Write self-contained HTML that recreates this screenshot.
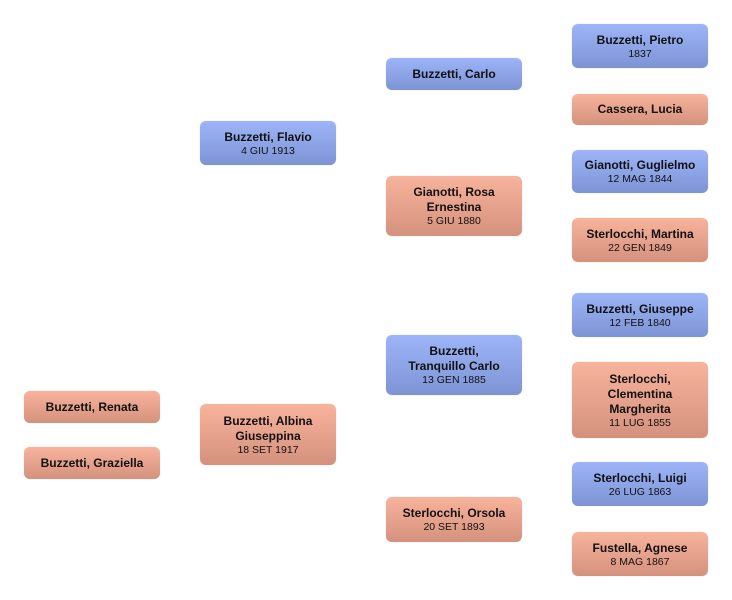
<!DOCTYPE html>
<html><head><style>
body{margin:0;width:732px;height:600px;background:#fff;position:relative;font-family:"Liberation Sans","DejaVu Sans",sans-serif;}
.b{position:absolute;width:136px;border-radius:6px;display:flex;flex-direction:column;justify-content:center;align-items:center;text-align:center;color:#111;box-shadow:0 0 1px rgba(0,0,0,.2);}
.m{background:linear-gradient(#9db5f8,#7d93d4);}
.f{background:linear-gradient(#f8b39c,#d4917d);}
.n{font-weight:bold;font-size:12px;line-height:15px;}
.d{font-size:10.5px;line-height:12px;}
</style></head><body>
<div class="b m" style="left:572px;top:24px;height:44px"><div class="n">Buzzetti, Pietro</div><div class="d">1837</div></div>
<div class="b f" style="left:572px;top:94px;height:31px"><div class="n">Cassera, Lucia</div></div>
<div class="b m" style="left:572px;top:150px;height:43px"><div class="n">Gianotti, Guglielmo</div><div class="d">12 MAG 1844</div></div>
<div class="b f" style="left:572px;top:218px;height:44px"><div class="n">Sterlocchi, Martina</div><div class="d">22 GEN 1849</div></div>
<div class="b m" style="left:572px;top:293px;height:44px"><div class="n">Buzzetti, Giuseppe</div><div class="d">12 FEB 1840</div></div>
<div class="b f" style="left:572px;top:362px;height:76px"><div class="n">Sterlocchi,<br>Clementina<br>Margherita</div><div class="d">11 LUG 1855</div></div>
<div class="b m" style="left:572px;top:462px;height:44px"><div class="n">Sterlocchi, Luigi</div><div class="d">26 LUG 1863</div></div>
<div class="b f" style="left:572px;top:532px;height:44px"><div class="n">Fustella, Agnese</div><div class="d">8 MAG 1867</div></div>
<div class="b m" style="left:386px;top:58px;height:32px"><div class="n">Buzzetti, Carlo</div></div>
<div class="b f" style="left:386px;top:176px;height:60px"><div class="n">Gianotti, Rosa<br>Ernestina</div><div class="d">5 GIU 1880</div></div>
<div class="b m" style="left:386px;top:335px;height:60px"><div class="n">Buzzetti,<br>Tranquillo Carlo</div><div class="d">13 GEN 1885</div></div>
<div class="b f" style="left:386px;top:497px;height:45px"><div class="n">Sterlocchi, Orsola</div><div class="d">20 SET 1893</div></div>
<div class="b m" style="left:200px;top:121px;height:44px"><div class="n">Buzzetti, Flavio</div><div class="d">4 GIU 1913</div></div>
<div class="b f" style="left:200px;top:404px;height:61px"><div class="n">Buzzetti, Albina<br>Giuseppina</div><div class="d">18 SET 1917</div></div>
<div class="b f" style="left:24px;top:391px;height:32px"><div class="n">Buzzetti, Renata</div></div>
<div class="b f" style="left:24px;top:447px;height:32px"><div class="n">Buzzetti, Graziella</div></div>
</body></html>
